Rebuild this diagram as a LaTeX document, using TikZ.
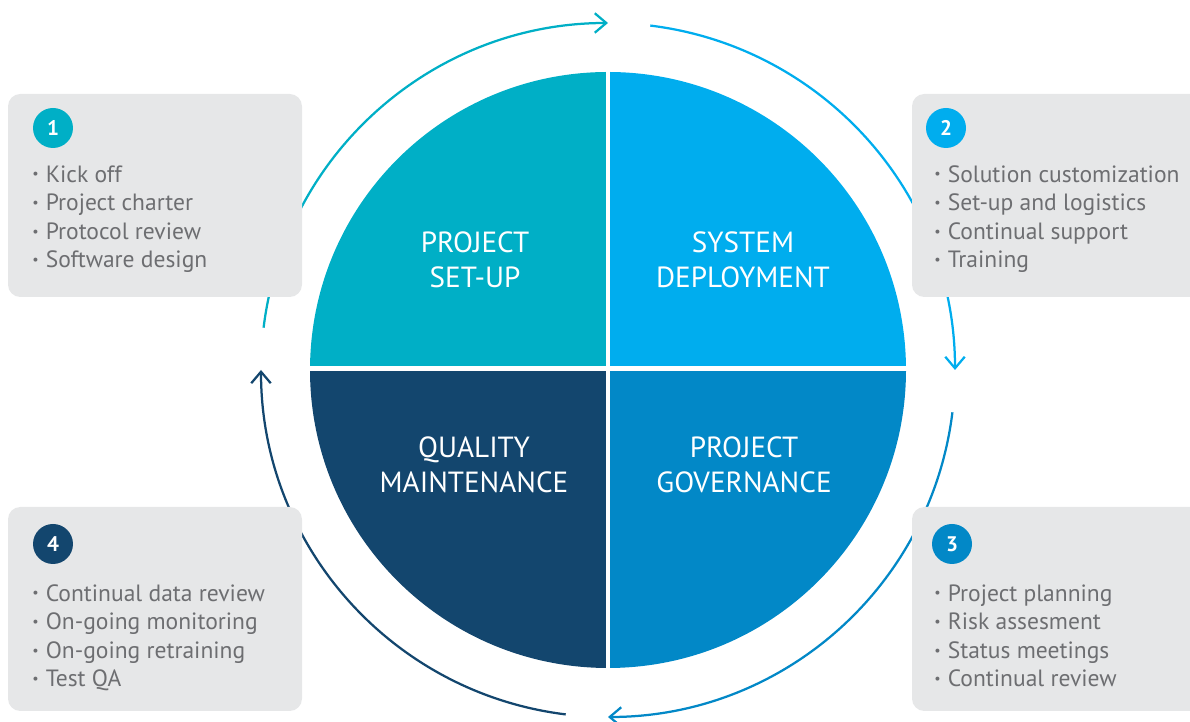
\documentclass[tikz,border=0pt]{standalone}
\usepackage{fontspec}
\setmainfont{PT Sans}
\usepackage{graphicx}
\usetikzlibrary{arrows.meta}

\definecolor{setup}{HTML}{00AFC6}
\definecolor{deploy}{HTML}{00ADEE}
\definecolor{govern}{HTML}{0288C7}
\definecolor{maint}{HTML}{13466E}
\definecolor{panel}{HTML}{E6E7E8}
\definecolor{ink}{HTML}{6D6E71}

\newcommand{\bul}{\raisebox{0.28ex}{\scalebox{0.6}{\textbullet}}\hspace{0.3em}}

\begin{document}
\begin{tikzpicture}[x = 0.02cm, y = 0.02cm, > = {Straight Barb[length = 2.3mm, width = 3.9mm]},
	cycle/.style = {line width = 0.045cm, ->},
	panelbox/.style = {fill = panel, rounded corners = 7pt},
	num/.style = {circle, minimum size = 0.8cm, inner sep = 0, text = white, font = \fontsize{12}{12}\selectfont\bfseries},
	list/.style = {anchor = base west, align = left, inner sep = 0, text = ink, font = \fontsize{13.4}{16.3}\selectfont},
	quad/.style = {align = center, text = white, font = \fontsize{16.6}{19.8}\selectfont}]

% Canvas

\clip (0, 0) rectangle (1190, 722);

% Centre and radii

\def\R{298}
\def\Rout{347}

\coordinate (c) at (608, 352);

% Outer cycle arrows

\begin{scope}[shift = {(c)}]
	\draw [cycle, setup] (173 : \Rout) arc (173 : 90 : \Rout);
	\draw [cycle, deploy] (83 : \Rout) arc (83 : 0 : \Rout);
	\draw [cycle, govern] (-7 : \Rout) arc (-7 : -90 : \Rout);
	\draw [cycle, maint] (-97 : \Rout) arc (-97 : -180 : \Rout);
\end{scope}

% Side panels

\fill [panelbox] (8, 425) rectangle (302, 628);
\fill [panelbox] (912, 425) rectangle (1210, 628);
\fill [panelbox] (912, 11) rectangle (1210, 215);
\fill [panelbox] (8, 11) rectangle (302, 215);

% The quadrants

\fill [setup] (c) -- ++(180 : \R) arc (180 : 90 : \R) -- cycle;
\fill [deploy] (c) -- ++(90 : \R) arc (90 : 0 : \R) -- cycle;
\fill [govern] (c) -- ++(0 : \R) arc (0 : -90 : \R) -- cycle;
\fill [maint] (c) -- ++(-90 : \R) arc (-90 : -180 : \R) -- cycle;

% White gaps

\draw [white, line width = 0.09cm] (608, 48) -- (608, 656);
\draw [white, line width = 0.1cm] (304, 353) -- (912, 353);

% Quadrant labels

\node [quad] (q1) at (475, 462) {PROJECT\\SET-UP};
\node [quad] (q2) at (743, 462) {SYSTEM\\DEPLOYMENT};
\node [quad] (q3) at (744, 257) {PROJECT\\GOVERNANCE};
\node [quad] (q4) at (474, 257) {QUALITY\\MAINTENANCE};

% Step numbers

\node [num, fill = setup] (n1) at (53, 594) {1};
\node [num, fill = deploy] (n2) at (946, 594) {2};
\node [num, fill = govern] (n3) at (952, 178) {3};
\node [num, fill = maint] (n4) at (53, 178) {4};

% Step lists (anchored at the last line)

\node [list] (l1) at (32, 454) {\bul Kick off\\\bul Project charter\\\bul Protocol review\\\bul Software design};
\node [list] (l2) at (934, 454) {\bul Solution customization\\\bul Set-up and logistics\\\bul Continual support\\\bul Training};
\node [list] (l3) at (934, 35) {\bul Project planning\\\bul Risk assesment\\\bul Status meetings\\\bul Continual review};
\node [list] (l4) at (32, 35) {\bul Continual data review\\\bul On-going monitoring\\\bul On-going retraining\\\bul Test QA};

\end{tikzpicture}
\end{document}
